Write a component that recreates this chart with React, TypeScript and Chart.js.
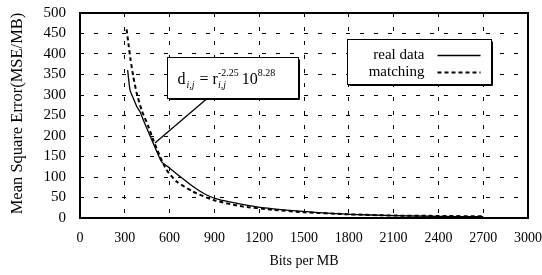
import React, { useEffect, useRef } from "react";
import { Chart, registerables } from "chart.js";

Chart.register(...registerables);

const seriesNames = ["real data", "matching"];
const realX = [319, 335, 357, 380, 402, 424, 458, 491, 524, 547, 603, 670, 759, 848, 938, 1049, 1205, 1429, 1600, 1800, 2100, 2400, 2700];
const realY = [361, 312, 292, 272, 259, 239, 210, 182, 154, 137, 121, 101, 76, 56, 44, 36, 26, 18, 13, 9, 6, 4, 3];
const matchX = [312, 324, 339, 357, 380, 413, 458, 491, 536, 580, 647, 759, 893, 1071, 1295, 1500, 1800, 2100, 2400, 2700];
const matchY = [460, 426, 385, 345, 304, 263, 223, 190, 150, 117, 89, 64, 44, 29, 20, 14, 9, 6, 5, 4];
const xTickValues = [0, 300, 600, 900, 1200, 1500, 1800, 2100, 2400, 2700, 3000];
const yTickValues = [0, 50, 100, 150, 200, 250, 300, 350, 400, 450, 500];
const xTitle = "Bits per MB";
const yTitle = "Mean Square Error(MSE/MB)";
// annotation box and pointer, in data units
const noteBoxX = [583, 1460];
const noteBoxY = [393, 293];
const notePointerFrom = [857, 293];
const notePointerTo = [502, 183];
// legend box in data units
const legendBoxX = [1788, 2752];
const legendBoxY = [437, 327];

const FONT = '"Liberation Serif", "Times New Roman", serif';

const overlay = {
  id: "overlay",
  afterDraw(chart: any) {
    const ctx = chart.ctx as CanvasRenderingContext2D;
    const { left, right, top, bottom } = chart.chartArea;
    const xs = chart.scales.x;
    const ys = chart.scales.y;
    ctx.save();
    // frame
    ctx.strokeStyle = "#000";
    ctx.setLineDash([]);
    ctx.lineWidth = 2;
    ctx.strokeRect(left, top, right - left, bottom - top);

    // axis titles
    ctx.fillStyle = "#000";
    ctx.font = `14px ${FONT}`;
    ctx.textAlign = "center";
    ctx.textBaseline = "middle";
    ctx.fillText(xTitle, (left + right) / 2, 261);
    ctx.save();
    ctx.font = `16.5px ${FONT}`;
    ctx.translate(18, (top + bottom) / 2 - 2);
    ctx.rotate(-Math.PI / 2);
    ctx.fillText(yTitle, 0, 0);
    ctx.restore();

    // pointer line
    ctx.lineWidth = 1.3;
    ctx.beginPath();
    ctx.moveTo(xs.getPixelForValue(notePointerFrom[0]), ys.getPixelForValue(notePointerFrom[1]));
    ctx.lineTo(xs.getPixelForValue(notePointerTo[0]), ys.getPixelForValue(notePointerTo[1]));
    ctx.stroke();

    const box = (bx: number[], by: number[]) => {
      const x0 = Math.round(xs.getPixelForValue(bx[0])) + 0.5;
      const x1 = Math.round(xs.getPixelForValue(bx[1])) + 0.5;
      const y0 = Math.round(ys.getPixelForValue(by[0])) + 0.5;
      const y1 = Math.round(ys.getPixelForValue(by[1])) + 0.5;
      ctx.fillStyle = "#fff";
      ctx.fillRect(x0, y0, x1 - x0, y1 - y0);
      ctx.strokeStyle = "#000";
      ctx.lineWidth = 1;
      ctx.strokeRect(x0, y0, x1 - x0, y1 - y0);
      ctx.beginPath();
      ctx.moveTo(x0 + 2, y1 + 1);
      ctx.lineTo(x1 + 1, y1 + 1);
      ctx.lineTo(x1 + 1, y0 + 2);
      ctx.stroke();
      return { x0, x1, y0, y1 };
    };

    // annotation box with formula
    const nb = box(noteBoxX, noteBoxY);
    ctx.fillStyle = "#000";
    ctx.textAlign = "left";
    ctx.textBaseline = "alphabetic";
    const base = (nb.y0 + nb.y1) / 2 + 6;
    let cx = nb.x0 + 10;
    const big = `16px ${FONT}`;
    const small = `10px ${FONT}`;
    const smallIt = `italic 10px ${FONT}`;
    ctx.font = big;
    ctx.fillText("d", cx, base);
    cx += ctx.measureText("d").width + 1;
    ctx.font = smallIt;
    ctx.fillText("i,j", cx, base + 4);
    cx += ctx.measureText("i,j").width + 1;
    ctx.font = big;
    ctx.fillText(" = r", cx, base);
    cx += ctx.measureText(" = r").width;
    ctx.font = small;
    ctx.fillText("-2.25", cx, base - 8);
    const w1 = ctx.measureText("-2.25").width;
    ctx.font = smallIt;
    ctx.fillText("i,j", cx, base + 4);
    cx += w1 + 3;
    ctx.font = big;
    ctx.fillText("10", cx, base);
    cx += ctx.measureText("10").width;
    ctx.font = small;
    ctx.fillText("8.28", cx, base - 8);

    // legend
    const lb = box(legendBoxX, legendBoxY);
    ctx.font = `15px ${FONT}`;
    ctx.fillStyle = "#000";
    ctx.textBaseline = "middle";
    ctx.textAlign = "right";
    const styles = [
      { dash: [] as number[], width: 1.3 },
      { dash: [4, 3], width: 2 },
    ];
    seriesNames.forEach((name, i) => {
      const yy = lb.y0 + 16 + i * 17;
      ctx.fillText(name, lb.x0 + 77, yy);
      ctx.beginPath();
      ctx.setLineDash(styles[i].dash);
      ctx.lineWidth = styles[i].width;
      ctx.moveTo(lb.x0 + 90, yy);
      ctx.lineTo(lb.x1 - 11, yy);
      ctx.stroke();
      ctx.setLineDash([]);
    });
    ctx.restore();
  },
};

export default function App() {
  const ref = useRef<HTMLCanvasElement>(null);
  useEffect(() => {
    document.body.style.margin = "0";
    const canvas = ref.current!;
    const chart = new Chart(canvas, {
      type: "line",
      data: {
        datasets: [
          {
            label: seriesNames[0],
            data: realX.map((x, i) => ({ x, y: realY[i] })),
            borderColor: "#000",
            borderWidth: 1.3,
            pointRadius: 0,
            tension: 0.2,
          },
          {
            label: seriesNames[1],
            data: matchX.map((x, i) => ({ x, y: matchY[i] })),
            borderColor: "#000",
            borderWidth: 2,
            borderDash: [4, 3],
            pointRadius: 0,
            tension: 0.2,
          },
        ],
      },
      options: {
        responsive: false,
        animation: false,
        devicePixelRatio: 1,
        layout: { padding: { top: 13, right: 14, left: 0, bottom: 0 } },
        plugins: { legend: { display: false }, tooltip: { enabled: false } },
        scales: {
          x: {
            type: "linear",
            min: 0,
            max: 3000,
            afterFit: (s: any) => {
              s.height = 57;
              s.paddingLeft = 0;
              s.paddingRight = 0;
            },
            afterBuildTicks: (s: any) => {
              s.ticks = xTickValues.map((v) => ({ value: v }));
            },
            ticks: {
              color: "#000",
              font: { family: FONT, size: 14 },
              padding: 12,
              maxRotation: 0,
              autoSkip: false,
              callback: (v: any) => String(v),
            },
            grid: { color: "#000", lineWidth: 1, drawTicks: false },
            border: { display: false, dash: [4, 10] },
          },
          y: {
            type: "linear",
            min: 0,
            max: 500,
            afterFit: (s: any) => {
              s.width = 80;
              s.paddingTop = 0;
              s.paddingBottom = 0;
            },
            afterBuildTicks: (s: any) => {
              s.ticks = yTickValues.map((v) => ({ value: v }));
            },
            ticks: {
              color: "#000",
              font: { family: FONT, size: 15 },
              padding: 14,
              autoSkip: false,
              callback: (v: any) => String(v),
            },
            grid: { color: "#000", lineWidth: 1, drawTicks: false },
            border: { display: false, dash: [4, 10] },
          },
        },
      },
      plugins: [overlay],
    } as any);
    return () => chart.destroy();
  }, []);
  return <canvas ref={ref} width={542} height={275} style={{ display: "block" }} />;
}
